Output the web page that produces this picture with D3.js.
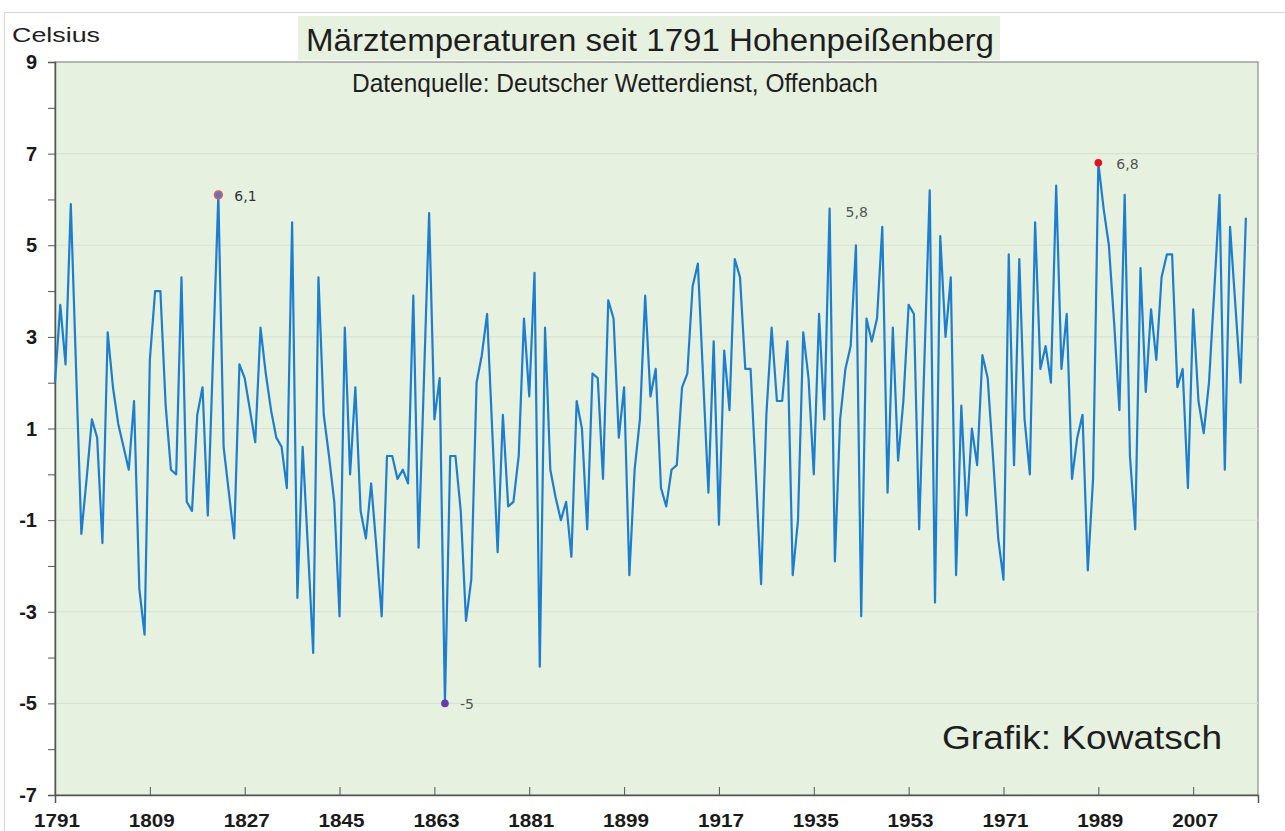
<!DOCTYPE html>
<html>
<head>
<meta charset="utf-8">
<script src="https://cdn.jsdelivr.net/npm/d3@7"></script>
<style>
  html, body { margin: 0; padding: 0; background: #ffffff; }
  svg { display: block; }
</style>
</head>
<body>
<svg id="chart" width="1285" height="831"></svg>
<script>
// ---- data ----
const firstYear = 1791;
const temps = [
  2.0, 3.7, 2.4, 5.9, 2.3, -1.3, -0.1, 1.2, 0.8, -1.5,          // 1791-1800
  3.1, 1.9, 1.1, 0.6, 0.1, 1.6, -2.5, -3.5, 2.5, 4.0,           // 1801-1810
  4.0, 1.5, 0.1, 0.0, 4.3, -0.6, -0.8, 1.3, 1.9, -0.9,          // 1811-1820
  2.6, 6.1, 0.6, -0.4, -1.4, 2.4, 2.1, 1.4, 0.7, 3.2,           // 1821-1830
  2.2, 1.4, 0.8, 0.6, -0.3, 5.5, -2.7, 0.6, -1.6, -3.9,         // 1831-1840
  4.3, 1.3, 0.4, -0.6, -3.1, 3.2, 0.0, 1.9, -0.8, -1.4,         // 1841-1850
  -0.2, -1.6, -3.1, 0.4, 0.4, -0.1, 0.1, -0.2, 3.9, -1.6,       // 1851-1860
  2.0, 5.7, 1.2, 2.1, -5.0, 0.4, 0.4, -0.8, -3.2, -2.3,         // 1861-1870
  2.0, 2.6, 3.5, 0.9, -1.7, 1.3, -0.7, -0.6, 0.4, 3.4,          // 1871-1880
  1.7, 4.4, -4.2, 3.2, 0.1, -0.5, -1.0, -0.6, -1.8, 1.6,        // 1881-1890
  1.0, -1.2, 2.2, 2.1, -0.1, 3.8, 3.4, 0.8, 1.9, -2.2,          // 1891-1900
  0.1, 1.2, 3.9, 1.7, 2.3, -0.3, -0.7, 0.1, 0.2, 1.9,           // 1901-1910
  2.2, 4.1, 4.6, 2.1, -0.4, 2.9, -1.1, 2.7, 1.4, 4.7,           // 1911-1920
  4.3, 2.3, 2.3, 0.0, -2.4, 1.3, 3.2, 1.6, 1.6, 2.9,            // 1921-1930
  -2.2, -1.0, 3.1, 2.1, 0.0, 3.5, 1.2, 5.8, -1.9, 1.2,          // 1931-1940
  2.3, 2.8, 5.0, -3.1, 3.4, 2.9, 3.4, 5.4, -0.4, 3.2,           // 1941-1950
  0.3, 1.6, 3.7, 3.5, -1.2, 2.5, 6.2, -2.8, 5.2, 3.0,           // 1951-1960
  4.3, -2.2, 1.5, -0.9, 1.0, 0.2, 2.6, 2.1, 0.4, -1.4,          // 1961-1970
  -2.3, 4.8, 0.2, 4.7, 1.2, 0.0, 5.5, 2.3, 2.8, 2.0,            // 1971-1980
  6.3, 2.3, 3.5, -0.1, 0.8, 1.3, -2.1, -0.1, 6.8, 5.8,          // 1981-1990
  5.0, 3.3, 1.4, 6.1, 0.4, -1.2, 4.5, 1.8, 3.6, 2.5,            // 1991-2000
  4.3, 4.8, 4.8, 1.9, 2.3, -0.3, 3.6, 1.6, 0.9, 2.0,            // 2001-2010
  4.0, 6.1, 0.1, 5.4, 3.7, 2.0, 5.6                             // 2011-2017
];
const years = temps.map((_, i) => firstYear + i);
const xTickYears = [1791, 1809, 1827, 1845, 1863, 1881, 1899, 1917, 1935, 1953, 1971, 1989, 2007];
const yTickValues = [9, 7, 5, 3, 1, -1, -3, -5, -7];
const gridValues = [7, 5, 3, 1, -1, -3, -5];
const annotYears = [1822, 1865, 1938, 1989];
const annotLabels = ["6,1", "-5", "5,8", "6,8"];

const titleText = "Märztemperaturen seit 1791 Hohenpeißenberg";
const subtitleText = "Datenquelle: Deutscher Wetterdienst, Offenbach";
const unitText = "Celsius";
const creditText = "Grafik: Kowatsch";

// ---- drawing ----
const svg = d3.select("#chart");
const plot = { left: 55, right: 1258, top: 62, bottom: 795 };
const x = d3.scaleLinear().domain([1791, 2019.3]).range([plot.left, plot.right]);
const y = d3.scaleLinear().domain([-7, 9]).range([plot.bottom, plot.top]);
const data = years.map((yr, i) => ({ year: yr, value: temps[i] }));

// outer frame
svg.append("rect").attr("x", 4.5).attr("y", 12.5).attr("width", 1300).attr("height", 900)
  .attr("fill", "none").attr("stroke", "#d6d6d6").attr("stroke-width", 1);

// plot background
svg.append("rect")
  .attr("x", plot.left).attr("y", plot.top)
  .attr("width", plot.right - plot.left).attr("height", plot.bottom - plot.top)
  .attr("fill", "#e7f1e0").attr("stroke", "#8a8a8a").attr("stroke-width", 1.2);

// gridlines
svg.append("g").selectAll("line").data(gridValues).join("line")
  .attr("x1", plot.left).attr("x2", plot.right)
  .attr("y1", d => y(d)).attr("y2", d => y(d))
  .attr("stroke", "#d9e2d2").attr("stroke-width", 1.2);

// title box + title
svg.append("rect").attr("x", 298).attr("y", 16).attr("width", 702).attr("height", 44).attr("fill", "#e7f1e0");
svg.append("text").attr("x", 650).attr("y", 51).attr("text-anchor", "middle")
  .attr("font-family", "'Liberation Sans', Arial, sans-serif").attr("font-size", 31)
  .attr("fill", "#1e1e1e").attr("textLength", 688).attr("lengthAdjust", "spacingAndGlyphs")
  .text(titleText);

svg.append("text").attr("x", 615).attr("y", 92).attr("text-anchor", "middle")
  .attr("font-family", "'Liberation Sans', Arial, sans-serif")
  .attr("font-size", 26).attr("fill", "#1e1e1e")
  .attr("textLength", 526).attr("lengthAdjust", "spacingAndGlyphs")
  .text(subtitleText);

svg.append("text").attr("x", 12).attr("y", 42)
  .attr("font-family", "'Liberation Sans', Arial, sans-serif")
  .attr("font-size", 20).attr("fill", "#1e1e1e")
  .attr("textLength", 88).attr("lengthAdjust", "spacingAndGlyphs")
  .text(unitText);

// y axis
const yAxis = d3.axisLeft(y).tickValues(d3.range(-7, 10, 1)).tickSize(7).tickFormat("");
const gy = svg.append("g").attr("transform", `translate(${plot.left},0)`).call(yAxis);
gy.select(".domain").attr("stroke", "#555").attr("stroke-width", 1.5);
gy.selectAll(".tick line").attr("stroke", "#555").attr("stroke-width", 1);

svg.append("g").selectAll("text").data(yTickValues).join("text")
  .attr("x", 37).attr("y", d => y(d) + 7).attr("text-anchor", "end")
  .attr("font-family", "'Liberation Sans', Arial, sans-serif").attr("font-weight", "bold")
  .attr("font-size", 20).attr("fill", "#1a1a1a")
  .text(d => d);

// x axis
const xAxis = d3.axisBottom(x).tickValues(xTickYears).tickSize(8).tickFormat("");
const gx = svg.append("g").attr("transform", `translate(0,${plot.bottom})`).call(xAxis);
gx.select(".domain").attr("stroke", "#555").attr("stroke-width", 1.5);
gx.selectAll(".tick line").attr("stroke", "#555").attr("stroke-width", 1).attr("y1", -8).attr("y2", 0);

svg.append("g").selectAll("text").data(xTickYears).join("text")
  .attr("x", d => x(d) + 2).attr("y", 827).attr("text-anchor", "middle")
  .attr("font-family", "'Liberation Sans', Arial, sans-serif").attr("font-weight", "bold")
  .attr("font-size", 19).attr("fill", "#1a1a1a")
  .attr("textLength", 46).attr("lengthAdjust", "spacingAndGlyphs")
  .text(d => d);

// line
const line = d3.line().x(d => x(d.year)).y(d => y(d.value));
svg.append("path").datum(data)
  .attr("d", line).attr("fill", "none")
  .attr("stroke", "#1c7ecf").attr("stroke-width", 2.2).attr("stroke-linejoin", "round");

// markers
const byYear = new Map(data.map(d => [d.year, d]));
const m1822 = byYear.get(1822);
svg.append("circle").attr("cx", x(m1822.year)).attr("cy", y(m1822.value)).attr("r", 3.8)
  .attr("fill", "#3a7fd0").attr("stroke", "#f05060").attr("stroke-width", 1.8);
const m1865 = byYear.get(1865);
svg.append("circle").attr("cx", x(m1865.year)).attr("cy", y(m1865.value)).attr("r", 3.8)
  .attr("fill", "#6a3bb0");
const m1989 = byYear.get(1989);
svg.append("circle").attr("cx", x(m1989.year)).attr("cy", y(m1989.value)).attr("r", 3.8)
  .attr("fill", "#e8101e");

// annotation labels
const annotOffsets = [[16, 6], [15, 6], [16, 8], [18, 6]];
annotYears.forEach((yr, i) => {
  const d = byYear.get(yr);
  svg.append("text")
    .attr("x", x(d.year) + annotOffsets[i][0]).attr("y", y(d.value) + annotOffsets[i][1])
    .attr("font-family", "'DejaVu Sans', sans-serif").attr("font-size", 14)
    .attr("fill", i === 0 ? "#333" : "#555")
    .text(annotLabels[i]);
});

// credit
svg.append("text").attr("x", 942).attr("y", 749)
  .attr("font-family", "'Liberation Sans', Arial, sans-serif").attr("font-size", 33)
  .attr("fill", "#1e1e1e").attr("textLength", 280).attr("lengthAdjust", "spacingAndGlyphs")
  .text(creditText);
</script>
</body>
</html>
